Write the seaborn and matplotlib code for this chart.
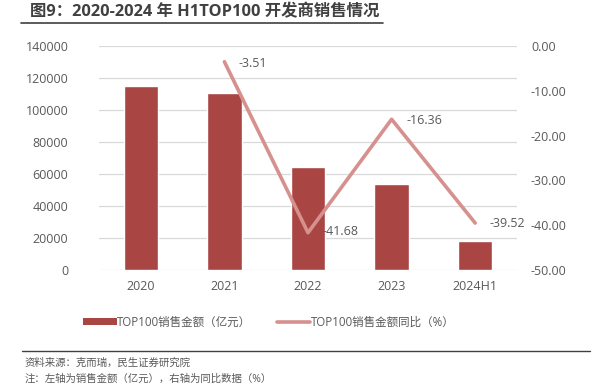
import matplotlib
matplotlib.use("Agg")
import matplotlib.pyplot as plt
import seaborn as sns
import pandas as pd
from matplotlib.lines import Line2D
from matplotlib.patches import Patch

# 数据
years = ["2020", "2021", "2022", "2023", "2024H1"]
sales = [115000, 110700, 64300, 53600, 18200]
yoy_years = ["2021", "2022", "2023", "2024H1"]
yoy = [-3.51, -41.68, -16.36, -39.52]

bar_color = "#A94644"
line_color = "#D6908E"
text_color = "#595959"

sns.set_theme(style="white")
plt.rcParams["font.family"] = ["Open Sans", "Noto Sans CJK SC", "DejaVu Sans"]

df_bar = pd.DataFrame({"year": years, "sales": sales})
df_line = pd.DataFrame({"pos": [years.index(y) for y in yoy_years], "yoy": yoy})

fig = plt.figure(figsize=(6.08, 3.86), dpi=100)
ax = fig.add_axes([99 / 608, 1 - 270 / 386, 418 / 608, 224 / 386])

sns.barplot(data=df_bar, x="year", y="sales", color=bar_color, width=0.41,
            saturation=1, ax=ax, zorder=3)
ax.set_ylim(0, 140000)
ax.set_yticks(range(0, 140001, 20000))
ax.grid(axis="y", color="#D9D9D9", linewidth=0.9, zorder=0)
ax.set_xlabel("")
ax.set_ylabel("")
for s in ax.spines.values():
    s.set_visible(False)
ax.tick_params(axis="both", length=0, labelsize=9, colors=text_color)
ax.tick_params(axis="y", pad=22)
ax.tick_params(axis="x", pad=7)
ax.set_xlim(-0.5, len(years) - 0.5)

ax2 = ax.twinx()
sns.lineplot(data=df_line, x="pos", y="yoy", color=line_color, linewidth=2.6,
             ax=ax2, zorder=4)
ax2.set_ylim(-50, 0)
ax2.set_yticks(range(-50, 1, 10))
ax2.set_yticklabels([f"{v:.2f}" for v in range(-50, 1, 10)])
ax2.set_ylabel("")
for s in ax2.spines.values():
    s.set_visible(False)
ax2.tick_params(axis="y", length=0, labelsize=9, colors=text_color, pad=10)
ax2.set_xlim(-0.5, len(years) - 0.5)

offsets = [(10.5, -1), (10.5, 1), (10.5, -1), (10, 0)]
for x, y, off in zip(df_line["pos"], df_line["yoy"], offsets):
    ax2.annotate(f"{y:.2f}", (x, y), xytext=off, textcoords="offset points",
                 ha="left", va="center", fontsize=9, color=text_color)

# 标题
fig.text(30 / 608, 1 - 12 / 386, "图9：2020-2024 年 H1TOP100 开发商销售情况",
         fontsize=11.8, fontweight="bold", color="#404040", va="center")
fig.add_artist(Line2D([21 / 608, 383 / 608], [1 - 23 / 386, 1 - 23 / 386],
                      color="#404040", linewidth=1.2))

# 图例
handles = [Patch(facecolor=bar_color, edgecolor="none"),
           Line2D([0], [0], color=line_color, linewidth=2.6)]
labels = ["TOP100销售金额（亿元）", "TOP100销售金额同比（%）"]
fig.legend(handles, labels, loc="center", bbox_to_anchor=(0.442, 1 - 322 / 386),
           ncol=2, frameon=False, fontsize=8.3, handlelength=2.9,
           handleheight=0.65, columnspacing=2.2, handletextpad=0.05,
           labelcolor=text_color)

# 底部
fig.add_artist(Line2D([22 / 608, 590 / 608], [1 - 351 / 386, 1 - 351 / 386],
                      color="#404040", linewidth=1.0))
fig.text(25 / 608, 1 - 363 / 386, "资料来源：克而瑞，民生证券研究院",
         fontsize=7.5, color=text_color, va="center")
fig.text(25 / 608, 1 - 379 / 386, "注：左轴为销售金额（亿元），右轴为同比数据（%）",
         fontsize=7.5, color=text_color, va="center")

fig.savefig("out.png", dpi=100)
